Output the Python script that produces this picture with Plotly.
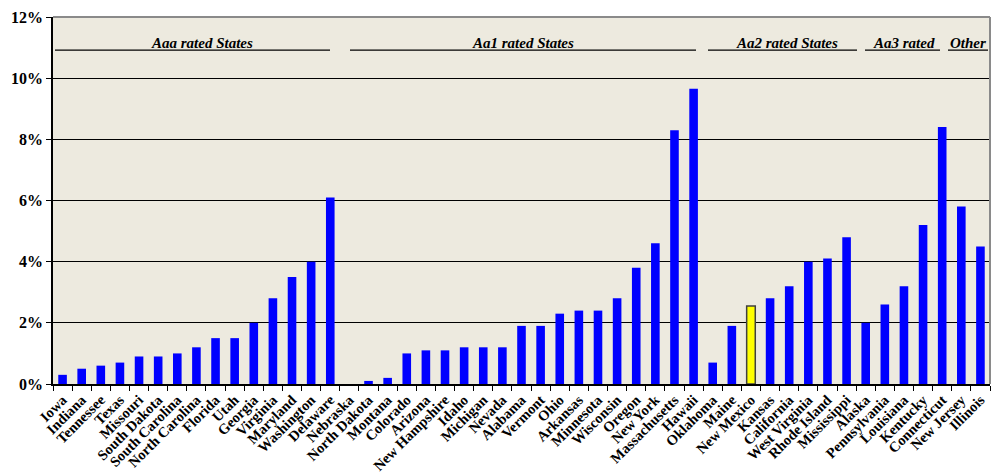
import plotly.graph_objects as go

states = ["Iowa", "Indiana", "Tennessee", "Texas", "Missouri", "South Dakota", "South Carolina",
          "North Carolina", "Florida", "Utah", "Georgia", "Virginia", "Maryland", "Washington",
          "Delaware", "Nebraska", "North Dakota", "Montana", "Colorado", "Arizona", "New Hampshire",
          "Idaho", "Michigan", "Nevada", "Alabama", "Vermont", "Ohio", "Arkansas", "Minnesota",
          "Wisconsin", "Oregon", "New York", "Massachusetts", "Hawaii", "Oklahoma", "Maine",
          "New Mexico", "Kansas", "California", "West Virginia", "Rhode Island", "Mississippi",
          "Alaska", "Pennsylvania", "Louisiana", "Kentucky", "Connecticut", "New Jersey", "Illinois"]
values = [0.3, 0.5, 0.6, 0.7, 0.9, 0.9, 1.0, 1.2, 1.5, 1.5, 2.0, 2.8, 3.5, 4.0, 6.1,
          0.0, 0.1, 0.2, 1.0, 1.1, 1.1, 1.2, 1.2, 1.2, 1.9, 1.9, 2.3, 2.4, 2.4, 2.8, 3.8, 4.6, 8.3, 9.65,
          0.7, 1.9, 2.55, 2.8, 3.2, 4.0, 4.1, 4.8,
          2.0, 2.6, 3.2, 5.2, 8.4,
          5.8, 4.5]
highlight = "New Mexico"
group_labels = ["Aaa rated States", "Aa1 rated States", "Aa2 rated States", "Aa3 rated", "Other"]
y_ticks = [0, 2, 4, 6, 8, 10, 12]

colors = ["#FFFF00" if s == highlight else "#0000FF" for s in states]
line_colors = ["#404040" if s == highlight else "#0000FF" for s in states]
line_widths = [1.5 if s == highlight else 0 for s in states]

fig = go.Figure(go.Bar(
    x=states, y=values,
    marker=dict(color=colors, line=dict(color=line_colors, width=line_widths)),
    width=0.45,
))

FONT = "Liberation Serif"

L, R = 53, 990
def px(xpix):
    return (xpix - L) / (R - L)

HDR_Y = 10.92
groups = [
    (group_labels[0], 55, 330, 202),
    (group_labels[1], 350, 696, 523),
    (group_labels[2], 708, 857, 787),
    (group_labels[3], 865, 940, 904),
    (group_labels[4], 948, 988, 968),
]
for label, x0, x1, xc in groups:
    fig.add_shape(type="line", xref="paper", yref="y", x0=px(x0), x1=px(x1), y0=HDR_Y, y1=HDR_Y,
                  line=dict(color="#000000", width=1.2))
    fig.add_annotation(xref="paper", yref="y", x=px(xc), y=HDR_Y, text="<b><i>" + label + "</i></b>",
                       showarrow=False, xanchor="center", yanchor="bottom", yshift=-3,
                       font=dict(family=FONT, size=15, color="#000000"))

fig.add_shape(type="line", xref="paper", yref="paper", x0=0, x1=1, y0=1, y1=1,
              line=dict(color="#8A8A8A", width=2))
fig.add_shape(type="line", xref="paper", yref="paper", x0=1, x1=1, y0=0, y1=1,
              line=dict(color="#8A8A8A", width=2))

fig.update_layout(
    width=996, height=476,
    margin=dict(l=53, r=6, t=17, b=92),
    paper_bgcolor="#FFFFFF",
    plot_bgcolor="#EDEADF",
    showlegend=False,
    font=dict(family=FONT, color="#000000"),
)
fig.update_xaxes(
    type="category", tickangle=-45, automargin=False,
    tickfont=dict(family=FONT, size=14.5, color="#000000", weight="bold"),
    showline=True, linecolor="#000000", linewidth=1.5,
    ticks="outside", ticklen=5, tickcolor="#000000", tickson="boundaries",
    showgrid=False, range=[-0.5, len(states) - 0.5],
)
fig.update_yaxes(
    range=[0, 12], tickvals=y_ticks, ticktext=[f"{v}%" for v in y_ticks], automargin=False,
    tickfont=dict(family=FONT, size=16, color="#000000", weight="bold"),
    showgrid=True, gridcolor="#000000", gridwidth=1,
    showline=True, linecolor="#000000", linewidth=1.5,
    ticks="outside", ticklen=5, tickcolor="#000000",
    zeroline=False,
)
fig.write_html("out.html")
